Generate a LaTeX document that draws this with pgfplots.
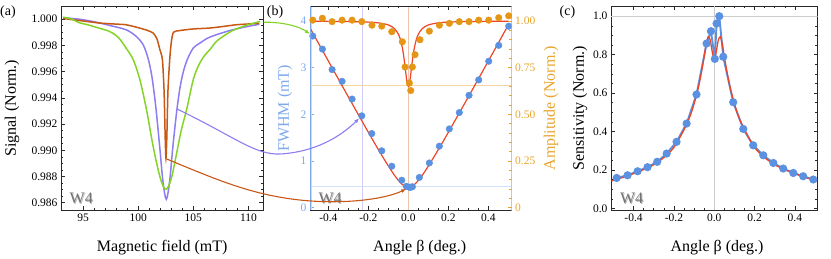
\documentclass[border=0pt]{standalone}
\usepackage{fontspec}
\setmainfont{Liberation Serif}
\usepackage{pgfplots}
\pgfplotsset{compat=1.18}
\usetikzlibrary{arrows.meta}

\definecolor{cOr}{RGB}{200,88,22}
\definecolor{cPu}{RGB}{140,125,240}
\definecolor{cGr}{RGB}{132,212,40}
\definecolor{cBl}{RGB}{90,145,225}
\definecolor{cAm}{RGB}{228,150,20}
\definecolor{cRed}{RGB}{238,68,40}
\definecolor{cFw}{RGB}{125,168,235}
\definecolor{cAx}{RGB}{232,165,45}
\definecolor{cFrame}{RGB}{40,40,40}

\pgfplotsset{
  every axis/.append style={
    scale only axis, anchor=south west,
    tick align=inside,
    major tick length=4pt, minor tick length=2.3pt,
    tick style={cFrame, line width=0.6pt},
    axis line style={cFrame, line width=0.8pt},
    tick label style={font=\fontsize{11.5}{12}\selectfont},
    label style={font=\fontsize{16}{18}\selectfont},
    /pgf/number format/assume math mode=true,
    /pgf/number format/1000 sep={},
    scaled ticks=false,
  },
}
\newcommand{\wfour}{%
  \node[text=black!30, font=\fontsize{16}{18}\selectfont] at ([xshift=0.9pt,yshift=-0.9pt]axis description cs:0.10,0.058) {W4};
  \node[text=black!55, font=\fontsize{16}{18}\selectfont] at (axis description cs:0.10,0.058) {W4};}

\begin{document}
\begin{tikzpicture}
\useasboundingbox (0,0) rectangle (831pt,259pt);

% ---------------- (a) ----------------
\begin{axis}[at={(61pt,48.5pt)}, width=202.3pt, height=204.5pt,
  xmin=93, xmax=111.35, ymin=0.98541, ymax=1.0010,
  xtick={95,100,105,110}, minor x tick num=4,
  ytick={0.986,0.988,0.990,0.992,0.994,0.996,0.998,1.000}, minor y tick num=3,
  yticklabel style={/pgf/number format/fixed, /pgf/number format/fixed zerofill, /pgf/number format/precision=3},
  xlabel={Magnetic field (mT)}, ylabel={Signal (Norm.)},
  xlabel style={at={(axis description cs:0.5,-0.183)}, anchor=center},
  ylabel style={at={(axis description cs:-0.242,0.5)}, anchor=center},
]
\addplot[cPu, line width=1.5pt, no markers, smooth, tension=0.5] coordinates {
(93.2,1.00010)(94.6,1.00000)(96.0,0.99980)(97.5,0.99950)(98.9,0.99919)(99.8,0.99870)
(100.45,0.99805)(100.9,0.99700)(101.25,0.99560)(101.6,0.99330)(101.95,0.99030)(102.25,0.98760)
(102.55,0.98626)(102.85,0.98760)(103.15,0.99030)(103.5,0.99300)(103.8,0.99480)(104.1,0.99600)
(104.45,0.99691)(105.0,0.99780)(105.6,0.99817)(106.3,0.99855)(107.1,0.99881)(108.0,0.99905)
(108.6,0.99919)(109.7,0.99940)(110.76,0.99957)(111.0,0.99960)};
\addplot[cOr, line width=1.5pt, no markers, smooth, tension=0.4] coordinates {
(93.2,1.00005)(94.6,0.99990)(96.5,0.99970)(98.0,0.99962)(98.9,0.99957)(100.0,0.99935)
(100.8,0.99915)(101.36,0.99894)(101.7,0.99850)(101.97,0.99767)(102.2,0.99691)(102.35,0.99450)
(102.45,0.99100)(102.52,0.98938)(102.6,0.99100)(102.7,0.99450)(102.86,0.99691)(103.0,0.99820)
(103.2,0.99900)(103.8,0.99913)(105.0,0.99925)(106.5,0.99932)(107.8,0.99945)(108.9,0.99957)
(110.0,0.99963)(111.0,0.99968)};
\addplot[cGr, line width=1.5pt, no markers, smooth, tension=0.5] coordinates {
(93.2,1.00015)(94.0,1.00000)(94.6,0.99974)(95.5,0.99955)(96.5,0.99930)(97.4,0.99906)
(98.2,0.99860)(98.9,0.99780)(99.55,0.99691)(100.15,0.99540)(100.75,0.99312)(101.2,0.99100)
(101.6,0.98930)(102.0,0.98790)(102.3,0.98720)(102.52,0.98702)(102.75,0.98725)(103.05,0.98800)
(103.45,0.98960)(103.9,0.99150)(104.4,0.99312)(105.0,0.99540)(105.5,0.99650)(106.0,0.99720)
(106.5,0.99767)(107.1,0.99830)(107.7,0.99868)(108.5,0.99910)(109.5,0.99944)(110.3,0.99965)
(111.06,0.99982)};
\wfour
\end{axis}

% ---------------- (b) FWHM ----------------
\begin{axis}[at={(310pt,48.5pt)}, width=201.7pt, height=204.5pt,
  xmin=-0.492, xmax=0.517, ymin=-0.058, ymax=4.323,
  xtick={-0.4,-0.2,0,0.2,0.4}, minor x tick num=3,
  xticklabel style={/pgf/number format/fixed, /pgf/number format/fixed zerofill, /pgf/number format/precision=1},
  ytick={0,1,2,3,4}, minor y tick num=4, ytick pos=left,
  y tick style={cFw}, yticklabel style={text=cFw},
  axis line style={draw=none},
  xlabel={Angle β (deg.)}, ylabel={FWHM (mT)},
  xlabel style={at={(axis description cs:0.544,-0.183)}, anchor=center},
  ylabel style={at={(axis description cs:-0.124,0.5)}, anchor=center, text=cFw},
]
\draw[cGr!45, line width=0.8pt] (axis cs:-0.483,-0.058) -- (axis cs:-0.483,4.323);
\draw[cPu!40, line width=0.8pt] (axis cs:-0.228,-0.058) -- (axis cs:-0.228,4.323);
\draw[cOr!35, line width=0.8pt] (axis cs:0,-0.058) -- (axis cs:0,4.323);
\draw[cFw!35, line width=1.6pt] (axis cs:-0.492,0.46) -- (axis cs:0.517,0.46);
\draw[cAx!45, line width=0.8pt] (axis cs:-0.492,2.614) -- (axis cs:0.517,2.614);
\addplot[only marks, mark=*, mark size=3.3pt, cBl, mark options={draw=none, fill=cBl}] coordinates {
(-0.478,3.68)(-0.43,3.40)(-0.3815,2.96)(-0.3315,2.71)(-0.2815,2.33)(-0.233,1.97)(-0.183,1.59)
(-0.133,1.22)(-0.083,0.89)(-0.033,0.59)(-0.01,0.46)(0.005,0.44)(0.012,0.44)(0.02,0.45)
(0.055,0.65)(0.105,0.96)(0.155,1.32)(0.205,1.69)(0.255,2.04)(0.3035,2.41)(0.352,2.74)
(0.402,3.14)(0.452,3.48)(0.502,3.89)};
\addplot[cRed, line width=1.2pt, no markers, smooth] coordinates {
(-0.49,3.837)(-0.4,3.143)(-0.3,2.375)(-0.2,1.617)(-0.15,1.247)(-0.1,0.894)(-0.07,0.700)
(-0.05,0.587)(-0.03,0.498)(-0.015,0.455)(0,0.44)(0.015,0.455)(0.03,0.498)(0.05,0.587)
(0.07,0.700)(0.1,0.894)(0.15,1.247)(0.2,1.617)(0.3,2.375)(0.4,3.143)(0.5,3.915)};
\coordinate (bG) at (axis cs:-0.478,3.68);
\coordinate (bP) at (axis cs:-0.233,1.97);
\coordinate (bO) at (axis cs:0.005,0.44);
\wfour
\end{axis}

% ---------------- (b) Amplitude ----------------
\begin{axis}[at={(310pt,48.5pt)}, width=201.7pt, height=204.5pt,
  xmin=-0.492, xmax=0.517, ymin=-0.0145, ymax=1.0808,
  xtick=\empty,
  ytick={0,0.25,0.5,0.75,1}, yticklabels={0,0.25,0.50,0.75,1.00},
  minor y tick num=4, ytick pos=right, yticklabel pos=right,
  y tick style={cAx}, yticklabel style={text=cAx},
  axis line style={draw=none},
  ylabel={Amplitude (Norm.)},
  ylabel style={at={(axis description cs:1.195,0.5)}, anchor=center, text=cAx},
]
\addplot[only marks, mark=*, mark size=3.3pt, cAm, mark options={draw=none, fill=cAm}] coordinates {
(-0.478,1.005)(-0.43,1.015)(-0.3815,0.997)(-0.3315,1.005)(-0.2815,1.005)(-0.233,0.997)
(-0.182,0.978)(-0.133,0.973)(-0.083,0.943)(-0.03,0.889)(-0.0165,0.754)(0.005,0.668)
(0.012,0.628)(0.02,0.754)(0.0335,0.82)(0.058,0.90)(0.105,0.946)(0.155,0.978)(0.205,0.988)
(0.255,0.997)(0.3035,0.997)(0.352,1.005)(0.402,1.005)(0.452,1.018)(0.502,1.028)};
\addplot[cRed, line width=1.2pt, no markers, smooth] coordinates {
(-0.49,0.9991)(-0.3,0.9976)(-0.2,0.9946)(-0.15,0.9905)(-0.1,0.9794)(-0.07,0.960)(-0.05,0.930)
(-0.04,0.9017)(-0.03,0.8566)(-0.025,0.825)(-0.02,0.787)(-0.015,0.743)(-0.01,0.698)
(-0.005,0.6635)(0,0.65)(0.005,0.6635)(0.01,0.698)(0.015,0.743)(0.02,0.787)(0.025,0.825)
(0.03,0.8566)(0.04,0.9017)(0.05,0.930)(0.07,0.960)(0.1,0.9794)(0.15,0.9905)(0.2,0.9946)
(0.3,0.9976)(0.5,0.9991)};
\draw[cFrame, line width=0.8pt] (rel axis cs:0,0) -- (rel axis cs:1,0);
\draw[cFrame, line width=0.8pt] (rel axis cs:0,1) -- (rel axis cs:1,1);
\draw[cFw, line width=0.8pt] (rel axis cs:0,0) -- (rel axis cs:0,1);
\draw[cAx, line width=0.8pt] (rel axis cs:1,0) -- (rel axis cs:1,1);
\end{axis}

% ---------------- (c) ----------------
\begin{axis}[at={(611pt,48.5pt)}, width=206.7pt, height=204.5pt,
  xmin=-0.512, xmax=0.513, ymin=-0.01, ymax=1.053,
  xtick={-0.4,-0.2,0,0.2,0.4}, minor x tick num=3,
  ytick={0,0.2,0.4,0.6,0.8,1.0}, minor y tick num=3,
  xticklabel style={/pgf/number format/fixed, /pgf/number format/fixed zerofill, /pgf/number format/precision=1},
  yticklabel style={/pgf/number format/fixed, /pgf/number format/fixed zerofill, /pgf/number format/precision=1},
  xlabel={Angle β (deg.)}, ylabel={Sensitivity (Norm.)},
  xlabel style={at={(axis description cs:0.513,-0.183)}, anchor=center},
  ylabel style={at={(axis description cs:-0.15,0.5)}, anchor=center},
]
\draw[black!20, line width=0.8pt] (axis cs:-0.512,1) -- (axis cs:0.513,1);
\draw[black!20, line width=0.8pt] (axis cs:0,-0.01) -- (axis cs:0,1.053);
\addplot[cBl, line width=1.9pt, mark=*, mark size=3.1pt, mark options={draw=none, fill=cBl}] coordinates {
(-0.484,0.159)(-0.430,0.173)(-0.380,0.194)(-0.331,0.215)(-0.283,0.243)(-0.236,0.286)
(-0.187,0.347)(-0.137,0.442)(-0.088,0.593)(-0.038,0.858)(-0.0165,0.922)(0.003,0.778)
(0.0116,0.962)(0.025,1.0)(0.0446,0.789)(0.094,0.553)(0.144,0.414)(0.193,0.329)(0.243,0.277)
(0.293,0.237)(0.342,0.208)(0.392,0.185)(0.441,0.168)(0.491,0.151)};
\addplot[cRed, line width=1.3pt, no markers, smooth] coordinates {
(-0.51,0.143)(-0.45,0.163)(-0.4,0.182)(-0.35,0.203)(-0.3,0.228)(-0.25,0.265)(-0.2,0.318)
(-0.15,0.41)(-0.12,0.48)(-0.1,0.545)(-0.08,0.625)(-0.065,0.70)(-0.05,0.79)(-0.04,0.855)
(-0.03,0.893)(-0.02,0.875)(-0.01,0.815)(0,0.775)(0.01,0.815)(0.02,0.875)(0.03,0.893)
(0.04,0.855)(0.05,0.79)(0.065,0.70)(0.08,0.625)(0.1,0.545)(0.12,0.48)(0.15,0.41)(0.2,0.318)
(0.25,0.265)(0.3,0.228)(0.35,0.203)(0.4,0.182)(0.45,0.163)(0.51,0.143)};
\wfour
\end{axis}

% ---------------- connecting arrows ----------------
\draw[cGr, line width=1.1pt, -{Latex[length=5pt,width=4pt]}, shorten >=3.5pt]
  (263.5pt,236.8pt) .. controls (285pt,237pt) and (300pt,232pt) .. (bG);
\draw[cPu, line width=1.1pt, -{Latex[length=5pt,width=4pt]}, shorten >=3.5pt]
  (177.7pt,149.7pt) .. controls (235pt,122pt) and (255pt,104pt) .. (280pt,105pt)
  .. controls (315pt,107pt) and (340pt,122pt) .. (bP);
\draw[cOr, line width=1.1pt, -{Latex[length=5pt,width=4pt]}, shorten >=3.5pt]
  (166.7pt,100pt) .. controls (220pt,78pt) and (260pt,60pt) .. (320pt,57.5pt)
  .. controls (360pt,56pt) and (390pt,62pt) .. (bO);

% ---------------- panel letters ----------------
\node[font=\fontsize{14}{16}\selectfont] at (8pt,246.5pt) {(a)};
\node[font=\fontsize{14}{16}\selectfont] at (275pt,246.5pt) {(b)};
\node[font=\fontsize{14}{16}\selectfont] at (567.5pt,246.5pt) {(c)};
\end{tikzpicture}
\end{document}
